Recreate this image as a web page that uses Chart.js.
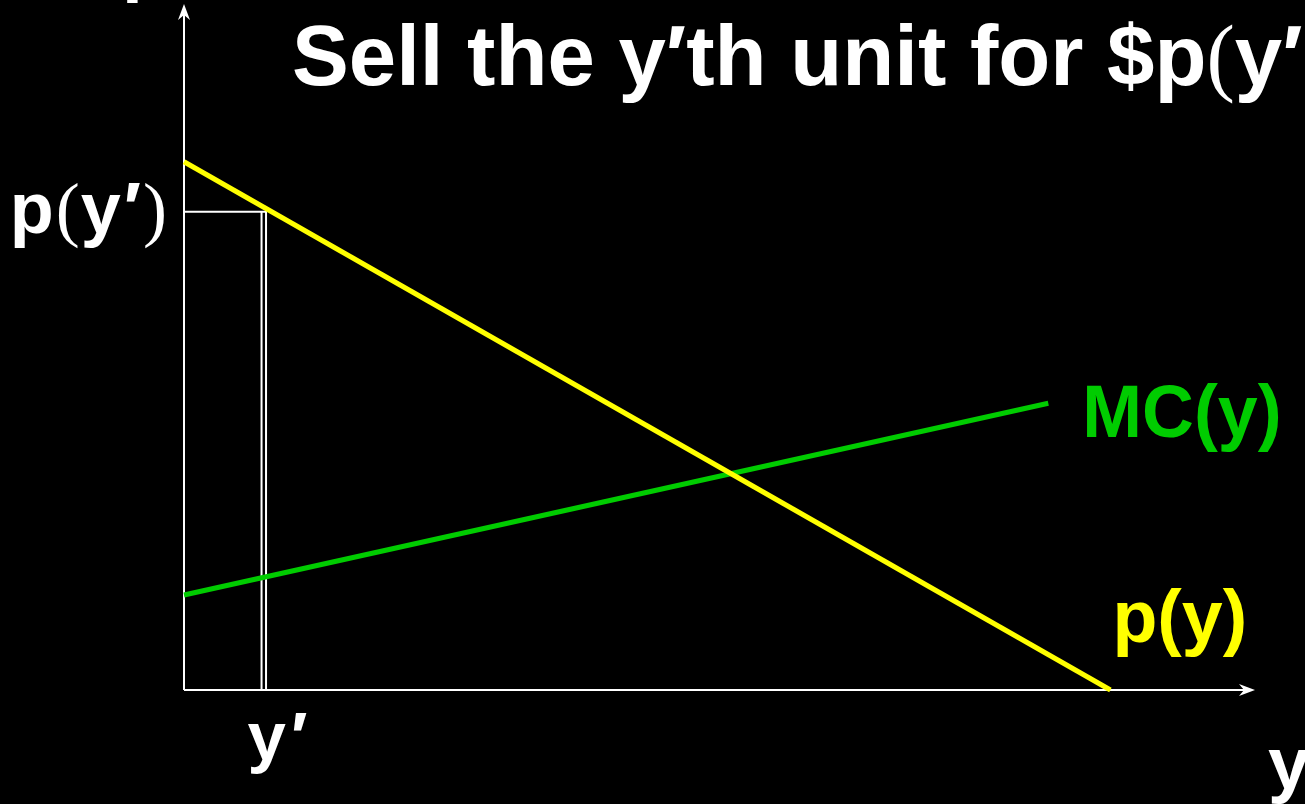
<!DOCTYPE html>
<html>
<head>
<meta charset="utf-8">
<script src="https://cdn.jsdelivr.net/npm/chart.js@4.4.0/dist/chart.umd.min.js"></script>
<style>
  html, body { margin: 0; padding: 0; background: #000; }
  #wrap { width: 1305px; height: 804px; }
</style>
</head>
<body>
<div id="wrap"><canvas id="myChart"></canvas></div>
<script>
// demand curve p(y) and marginal cost MC(y), in chart units (axes run 0..10)
const demandX = [0, 8.65];
const demandY = [7.7, 0];
const mcX = [0, 8.07];
const mcY = [1.385, 4.18];
// the y'th unit: a thin strip at y' with height p(y')
const yPrimeX = [0.724, 0.766];
const pYPrime = 6.97;

// [text, font kind, gap before]
const titleParts = [["Sell the y\u2032th unit for $p", "sans", 0], ["(", "serif", 0], ["y\u2032", "sans", 0]];
const pLabelParts = [["p", "sans", 0], ["(", "serif", 2], ["y", "sans", 1], ["\u2032", "sans", 3], [")", "serif", 2]];
const yPrimeParts = [["y", "sans", 0], ["\u2032", "sans", 5]];
const mcLabel = "MC(y)";
const demandLabel = "p(y)";
const xAxisLabel = "y";
const yAxisLabel = "p";

const YELLOW = "#ffff00";
const GREEN = "#00cc00";
const WHITE = "#ffffff";

const ctx = document.getElementById("myChart");

function toPoints(xs, ys) {
  return xs.map(function (x, i) {
    return { x: x, y: ys[i] };
  });
}

function fontFor(kind, size) {
  if (kind === "serif") return size + "px 'Liberation Serif'";
  return "bold " + size + "px 'Liberation Sans'";
}

function drawParts(c, parts, x, y, size, color, align, squeeze) {
  const sx = squeeze || 1;
  let total = 0;
  parts.forEach(function (p) {
    c.font = fontFor(p[1], size);
    total += c.measureText(p[0]).width + (p[2] || 0);
  });
  total *= sx;
  const startX = align === "right" ? x - total : x;
  c.save();
  c.translate(startX, y);
  c.scale(sx, 1);
  c.fillStyle = color;
  c.textBaseline = "alphabetic";
  c.textAlign = "left";
  let cx = 0;
  parts.forEach(function (p) {
    c.font = fontFor(p[1], size);
    cx += p[2] || 0;
    c.fillText(p[0], cx, 0);
    cx += c.measureText(p[0]).width;
  });
  c.restore();
}

function arrowHead(c, x, y, dir) {
  c.beginPath();
  if (dir === "right") {
    c.moveTo(x, y);
    c.lineTo(x - 16, y - 6);
    c.lineTo(x - 11, y);
    c.lineTo(x - 16, y + 6);
  } else {
    c.moveTo(x, y);
    c.lineTo(x - 6, y + 16);
    c.lineTo(x, y + 11);
    c.lineTo(x + 6, y + 16);
  }
  c.closePath();
  c.fill();
}

const slidePlugin = {
  id: "slide",
  beforeDraw(chart) {
    const c = chart.ctx;
    c.save();
    c.fillStyle = "#000";
    c.fillRect(0, 0, chart.width, chart.height);
    c.restore();
  },
  beforeDatasetsDraw(chart) {
    const c = chart.ctx;
    const xs = chart.scales.x;
    const ys = chart.scales.y;
    const x0 = Math.round(xs.getPixelForValue(0));
    const y0 = Math.round(ys.getPixelForValue(0));
    const xEnd = xs.getPixelForValue(xs.max);
    const yEnd = ys.getPixelForValue(ys.max);
    c.save();
    c.strokeStyle = WHITE;
    c.fillStyle = WHITE;
    c.lineWidth = 2;
    c.beginPath();
    c.moveTo(x0, y0);
    c.lineTo(xEnd - 10, y0);
    c.moveTo(x0, y0);
    c.lineTo(x0, yEnd + 10);
    c.stroke();
    arrowHead(c, xEnd, y0, "right");
    arrowHead(c, x0, yEnd, "up");
    c.restore();
  },
  afterDatasetsDraw(chart) {
    const xs = chart.scales.x;
    const ys = chart.scales.y;
    const c = chart.ctx;
    // title
    drawParts(c, titleParts, 292, 85, 86, WHITE, "left", 0.99);
    // tick-style labels
    drawParts(c, pLabelParts, xs.getPixelForValue(0) - 17, ys.getPixelForValue(pYPrime) + 21, 72, WHITE, "right");
    drawParts(c, yPrimeParts, xs.getPixelForValue(yPrimeX[0]) - 14, 760, 69, WHITE, "left");
    // curve labels
    drawParts(c, [[mcLabel, "sans", 0]], xs.getPixelForValue(mcX[1]) + 34, ys.getPixelForValue(mcY[1]) + 34, 74, GREEN, "left", 0.97);
    drawParts(c, [[demandLabel, "sans", 0]], xs.getPixelForValue(demandX[1]) + 2, ys.getPixelForValue(0) - 48, 75, YELLOW, "left", 0.98);
    // axis names, partly off the slide
    drawParts(c, [[xAxisLabel, "sans", 0]], 1268, 789, 75, WHITE, "left");
    drawParts(c, [[yAxisLabel, "sans", 0]], 122, -12, 75, WHITE, "left");
  }
};

new Chart(ctx, {
  type: "scatter",
  data: {
    datasets: [
      {
        label: "p(y)",
        data: toPoints(demandX, demandY),
        showLine: true,
        borderColor: YELLOW,
        borderWidth: 5,
        pointRadius: 0,
      },
      {
        label: "MC(y)",
        data: toPoints(mcX, mcY),
        showLine: true,
        borderColor: GREEN,
        borderWidth: 5,
        pointRadius: 0,
      },
      {
        label: "strip",
        data: [
          { x: 0, y: pYPrime },
          { x: yPrimeX[1], y: pYPrime },
          { x: yPrimeX[1], y: 0 },
        ],
        showLine: true,
        borderColor: WHITE,
        borderWidth: 2,
        pointRadius: 0,
      },
      {
        label: "strip left",
        data: [
          { x: yPrimeX[0], y: pYPrime },
          { x: yPrimeX[0], y: 0 },
        ],
        showLine: true,
        borderColor: WHITE,
        borderWidth: 2,
        pointRadius: 0,
      },
    ],
  },
  options: {
    responsive: true,
    maintainAspectRatio: false,
    animation: false,
    clip: false,
    layout: {
      padding: { left: 184, right: 50, top: 4, bottom: 114 },
    },
    plugins: {
      legend: { display: false },
      tooltip: { enabled: false },
    },
    scales: {
      x: { type: "linear", min: 0, max: 10, display: false },
      y: { type: "linear", min: 0, max: 10, display: false },
    },
  },
  plugins: [slidePlugin],
});
</script>
</body>
</html>
